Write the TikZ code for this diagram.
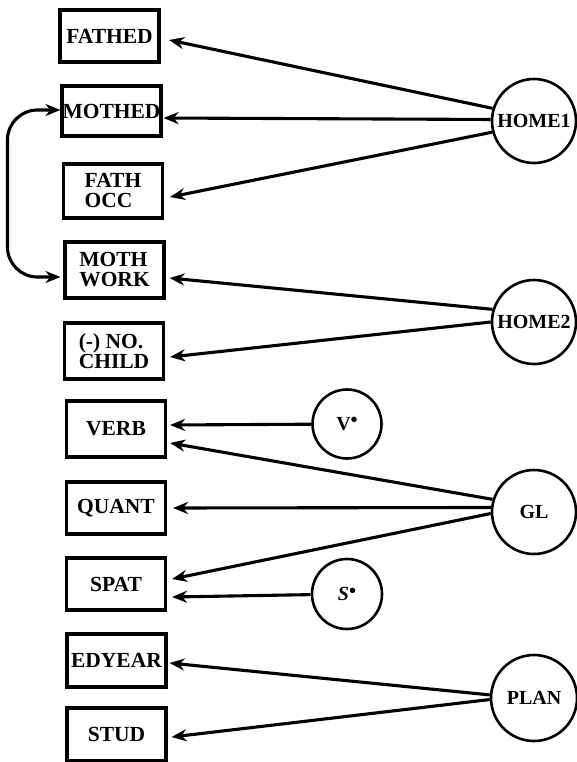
\documentclass[tikz,border=0pt]{standalone}
\usepackage{fontspec}
\setmainfont{Liberation Serif}
\usetikzlibrary{arrows.meta}
\begin{document}
\begin{tikzpicture}[x=1pt,y=-1pt,
  varbox/.style={draw, line width=3.1pt, minimum width=99pt, inner sep=0pt,
    align=left, font=\bfseries\fontsize{21.5}{20}\selectfont},
  factor/.style={circle, draw, line width=2.6pt, inner sep=0pt,
    font=\bfseries\fontsize{20}{20}\selectfont},
  path/.style={line width=3.1pt, -{Stealth[length=15pt,width=12pt]}}]
\useasboundingbox (0,0) rectangle (577,762);

% observed variables
\node[varbox, minimum height=52pt] (fathed)   at (109.5,36)  {FATHED};
\node[varbox, minimum height=50pt] (mothed)   at (111.5,111) {MOTHED};
\node[varbox, minimum height=54pt] (fathocc)  at (113,191)   {FATH\\OCC};
\node[varbox, minimum height=56pt] (mothwork) at (114.5,270) {MOTH\\WORK};
\node[varbox, minimum height=56pt] (nochild)  at (114,351)   {(-) NO.\\CHILD};
\node[varbox, minimum height=56pt] (verb)     at (116,429)   {VERB};
\node[varbox, minimum height=52pt] (quant)    at (116,508)   {QUANT};
\node[varbox, minimum height=52pt] (spat)     at (116,584)   {SPAT};
\node[varbox, minimum height=53pt] (edyear)   at (116.5,660.5) {EDYEAR};
\node[varbox, minimum height=53pt] (stud)     at (116.5,734.5) {STUD};

% latent factors
\node[factor, minimum size=84pt] (home1) at (534,121) {HOME1};
\node[factor, minimum size=84pt] (home2) at (534,322) {HOME2};
\node[factor, minimum size=69pt] (vstar) at (347,424) {V\raisebox{4pt}{\textbullet}};
\node[factor, minimum size=84pt] (gl)    at (534,512) {GL};
\node[factor, minimum size=70pt] (sstar) at (347,594) {\textit{S}\raisebox{3pt}{\textbullet}};
\node[factor, minimum size=86pt] (plan)  at (534,698) {PLAN};

% loadings
\draw[path] (home1.163.4) -- ([xshift=8.5pt,yshift=-4pt]fathed.east);
\draw[path] (home1.178.6) -- ([xshift=1pt,yshift=-7pt]mothed.east);
\draw[path] (home1.195.2) -- ([xshift=6pt,yshift=-6pt]fathocc.east);

\draw[path] (home2.163.4) -- ([xshift=4pt,yshift=-8pt]mothwork.east);
\draw[path] (home2.180)   -- ([xshift=5pt,yshift=-6pt]nochild.east);

\draw[path] (vstar) -- ([xshift=3pt,yshift=4pt]verb.east);
\draw[path] (gl.163.4) -- ([xshift=3pt,yshift=-14pt]verb.east);
\draw[path] (gl.174.5) -- ([xshift=6pt]quant.east);
\draw[path] (gl.182.7) -- ([xshift=5pt,yshift=5pt]spat.east);
\draw[path] (sstar) -- ([xshift=5pt,yshift=-13pt]spat.east);

\draw[path] (plan.176)   -- ([xshift=2pt,yshift=-2.5pt]edyear.east);
\draw[path] (plan.182.7) -- ([xshift=4pt,yshift=-2.5pt]stud.east);

% correlated residuals
\draw[line width=3.1pt, rounded corners=30pt,
      {Stealth[length=15pt,width=12pt]}-{Stealth[length=15pt,width=12pt]}]
  ([yshift=1pt]mothed.west) -- ++(-53,0) |- ([xshift=-3pt,yshift=-7pt]mothwork.west);
\end{tikzpicture}
\end{document}
